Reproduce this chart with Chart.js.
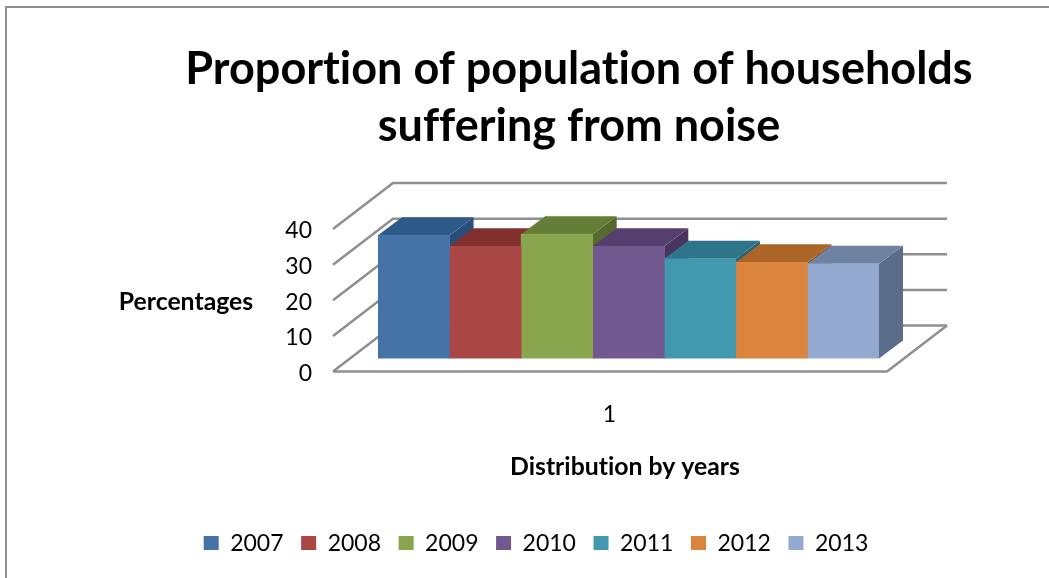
<!DOCTYPE html>
<html>
<head>
<meta charset="utf-8">
<style>
  html, body { margin: 0; padding: 0; background: #fff; overflow: hidden; }
  #frame { position: absolute; left: 5px; top: 6px; right: 0; bottom: 0; border-top: 2px solid #8f8f8f; border-left: 2px solid #8f8f8f; }
  canvas { position: absolute; left: 0; top: 0; }
</style>
<script src="https://cdn.jsdelivr.net/npm/chart.js@4"></script>
</head>
<body>
<div id="frame"></div>
<canvas id="chart" width="1049" height="578"></canvas>
<script>
const categories = ['1'];
const years = ['2007', '2008', '2009', '2010', '2011', '2012', '2013'];
const shares = [34.6, 31.5, 34.9, 31.5, 28, 27, 26.6];
const yTicks = [0, 10, 20, 30, 40];

const frontColors = ['#4572a7', '#aa4643', '#89a54e', '#71588f', '#4198af', '#db843d', '#93a9cf'];
const topColors   = ['#2e5a8a', '#82302e', '#667d37', '#563f6f', '#2f7589', '#ab6527', '#6f82a3'];
const sideColors  = ['#274f7a', '#6f2a28', '#566a2f', '#49365f', '#286576', '#925621', '#5c6d8a'];

const FONT = 'Lato, "Open Sans", sans-serif';
const GRID = '#8f8f8f';

// Oblique projection: bar box depth, and the offsets of the floor's front and back edges
// relative to the plane holding the bar fronts.
const BAR_DEPTH = { x: 24, y: -18 };
const WALL = { left: -45, right: 68, frontY: 13, backX: 15, backY: -33 };

function quad(ctx, pts, fill) {
  ctx.beginPath();
  pts.forEach((p, i) => (i ? ctx.lineTo(p[0], p[1]) : ctx.moveTo(p[0], p[1])));
  ctx.closePath();
  ctx.fillStyle = fill;
  ctx.fill();
}

const box3d = {
  id: 'box3d',
  beforeDraw(chart) {
    // Plain glyph runs: no "ti" / "ff" ligatures in the captions
    chart.ctx.textRendering = 'optimizeSpeed';
  },
  afterLayout(chart) {
    // Title and legend sit off-centre relative to the plot
    const recentre = (box, cx) => {
      const d = cx - (box.left + box.right) / 2;
      box.left += d;
      box.right += d;
    };
    recentre(chart.titleBlock, 579);
    recentre(chart.legend, 536);
  },
  beforeDatasetsDraw(chart) {
    const { ctx, chartArea: area, scales: { y } } = chart;
    const frontL = area.left + WALL.left;
    const frontR = area.right + WALL.right - 60;
    const backL = frontL + 60;
    const backR = frontR + 60;

    ctx.save();
    ctx.strokeStyle = GRID;
    ctx.lineWidth = 2.5;
    yTicks.forEach(v => {
      const py = y.getPixelForValue(v);
      ctx.beginPath();
      ctx.moveTo(frontL, py + WALL.frontY);
      ctx.lineTo(backL, py + WALL.backY);
      ctx.lineTo(backR, py + WALL.backY);
      ctx.stroke();
    });
    const floorFront = y.getPixelForValue(0) + WALL.frontY;
    const floorBack = y.getPixelForValue(0) + WALL.backY;
    ctx.beginPath();
    ctx.moveTo(frontL, floorFront);
    ctx.lineTo(frontR, floorFront);
    ctx.lineTo(backR, floorBack);
    ctx.stroke();

    // Side then top for each box, left to right, so a box's top covers its neighbour's side
    chart.getSortedVisibleDatasetMetas().forEach(meta => {
      const bar = meta.data[0];
      const i = meta.index;
      const l = bar.x - bar.width / 2;
      const r = bar.x + bar.width / 2;
      const t = bar.y;
      const b = bar.base;
      const dx = BAR_DEPTH.x;
      const dy = BAR_DEPTH.y;
      quad(ctx, [[r, t], [r + dx, t + dy], [r + dx, b + dy], [r, b]], sideColors[i]);
      quad(ctx, [[l, t], [l + dx, t + dy], [r + dx, t + dy], [r, t]], topColors[i]);
    });
    ctx.restore();
  },
  afterDraw(chart) {
    // Axis captions: the y caption is horizontal and the x caption follows the floor's centre,
    // neither of which the scales' own titles can do
    const { ctx } = chart;
    ctx.save();
    ctx.font = 'bold 24.8px ' + FONT;
    ctx.fillStyle = '#000';
    ctx.textAlign = 'center';
    ctx.textBaseline = 'middle';
    ctx.fillText('Percentages', 186, 302);
    ctx.fillText('Distribution by years', 625, 467);
    ctx.restore();
  }
};

new Chart(document.getElementById('chart'), {
  type: 'bar',
  data: {
    labels: categories,
    datasets: years.map((year, i) => ({
      label: year,
      data: [shares[i]],
      backgroundColor: frontColors[i],
      borderWidth: 0,
      barPercentage: 1,
      categoryPercentage: 1
    }))
  },
  options: {
    responsive: false,
    animation: false,
    events: [],
    layout: { padding: { left: 0, right: 170, top: 0, bottom: 13.4 } },
    plugins: {
      tooltip: { enabled: false },
      title: {
        display: true,
        text: ['Proportion of population of households', 'suffering from noise'],
        color: '#000',
        font: { family: FONT, size: 45, weight: 'bold', lineHeight: 1.27 },
        padding: { top: 41, bottom: 60.7 }
      },
      legend: {
        position: 'bottom',
        labels: {
          color: '#000',
          font: { family: FONT, size: 23 },
          boxWidth: 15,
          boxHeight: 14,
          padding: 17.6
        }
      }
    },
    scales: {
      x: {
        grid: { display: false },
        border: { display: false },
        ticks: { color: '#000', font: { family: FONT, size: 23 }, padding: 34, labelOffset: -19, maxRotation: 0 },
        afterFit(scale) { scale.height = 155.4; }
      },
      y: {
        min: 0,
        max: 40,
        afterBuildTicks(scale) { scale.ticks = yTicks.map(value => ({ value })); },
        grid: { display: false },
        border: { display: false },
        ticks: { color: '#000', font: { family: FONT, size: 23 }, padding: 58, labelOffset: 15 },
        afterFit(scale) { scale.width = 378; }
      }
    }
  },
  plugins: [box3d]
});
</script>
</body>
</html>
